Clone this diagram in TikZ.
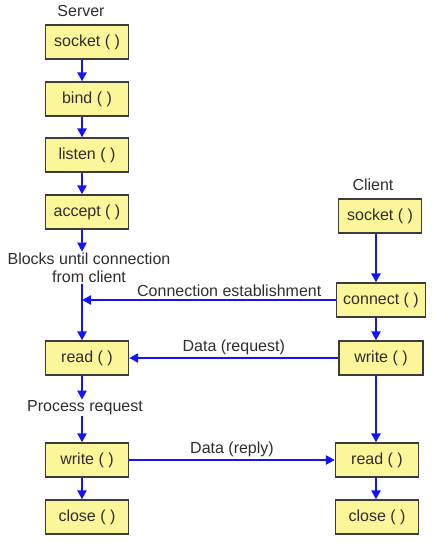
\documentclass[tikz,border=0pt]{standalone}
\usepackage{tikz}
\usepackage{fontspec}
\setmainfont{Liberation Sans}
\usetikzlibrary{arrows.meta, positioning}

\definecolor{boxfill}{RGB}{252,246,154}
\definecolor{boxline}{RGB}{60,60,60}
\definecolor{flowblue}{RGB}{20,20,250}

\begin{document}
\begin{tikzpicture}[x=1pt, y=-1pt,
    call/.style={draw=boxline, line width=1.3pt, fill=boxfill, rectangle, text centered, minimum height=34pt, minimum width=83pt, inner sep=2pt},
    note/.style={align=center, inner sep=1pt},
    flow/.style={draw=flowblue, line width=2.8pt, -{Triangle[length=9pt, width=9pt]}},
    every node/.style={font=\fontsize{16}{18.5}\selectfont, text=black!82}]

    \useasboundingbox (0,0) rectangle (432,547);

    % Server side: call sequence
    \node (server) at (81,11) {Server};
    \node (ssocket) [call] at (87,42) {socket ( )};
    \node (sbind) [call] at (87,99) {bind ( )};
    \node (slisten) [call] at (87,155) {listen ( )};
    \node (saccept) [call] at (87,212) {accept ( )};
    \node (blocks) [note] at (89,268) {Blocks until connection\\from client};
    \node (sread) [call] at (87,358) {read ( )};
    \node (process) [note] at (85,408) {Process request};
    \node (swrite) [call] at (87,460) {write ( )};
    \node (sclose) [call] at (87,517) {close ( )};

    % Client side: call sequence
    \node (client) at (373,185) {Client};
    \node (csocket) [call] at (380,216) {socket ( )};
    \node (cconnect) [call, minimum width=89pt] at (381,300) {connect ( )};
    \node (cwrite) [call, minimum width=84pt] at (381,358) {write ( )};
    \node (cread) [call] at (377,460) {read ( )};
    \node (cclose) [call] at (377,517) {close ( )};

    % the arrows run a little left of the box centres
    \coordinate (slane) at (82,0);
    \coordinate (clane) at (376,0);

    % Arrows down the server column
    \draw[flow] (ssocket.south -| slane) -- (sbind.north -| slane);
    \draw[flow] (sbind.south -| slane) -- (slisten.north -| slane);
    \draw[flow] (slisten.south -| slane) -- (saccept.north -| slane);
    \draw[flow] (saccept.south -| slane) -- (blocks.north -| slane);
    \draw[flow] (blocks.south -| slane) -- (sread.north -| slane);
    \draw[flow] (sread.south -| slane) -- (process.north -| slane);
    \draw[flow] (process.south -| slane) -- (swrite.north -| slane);
    \draw[flow] (swrite.south -| slane) -- (sclose.north -| slane);

    % Arrows down the client column
    \draw[flow] (csocket.south -| clane) -- (cconnect.north -| clane);
    \draw[flow] (cconnect.south -| clane) -- (cwrite.north -| clane);
    \draw[flow] (cwrite.south -| clane) -- (cread.north -| clane);
    \draw[flow] (cread.south -| clane) -- (cclose.north -| clane);

    % Messages between the two sides
    \draw[flow] (cconnect.west) -- (cconnect.west -| slane) node[pos=0.42, above, inner sep=2pt] {Connection establishment};
    \draw[flow] (cwrite) -- (sread) node[midway, above, inner sep=2pt] {Data (request)};
    \draw[flow] (swrite) -- (cread) node[midway, above, inner sep=2pt] {Data (reply)};

\end{tikzpicture}
\end{document}
